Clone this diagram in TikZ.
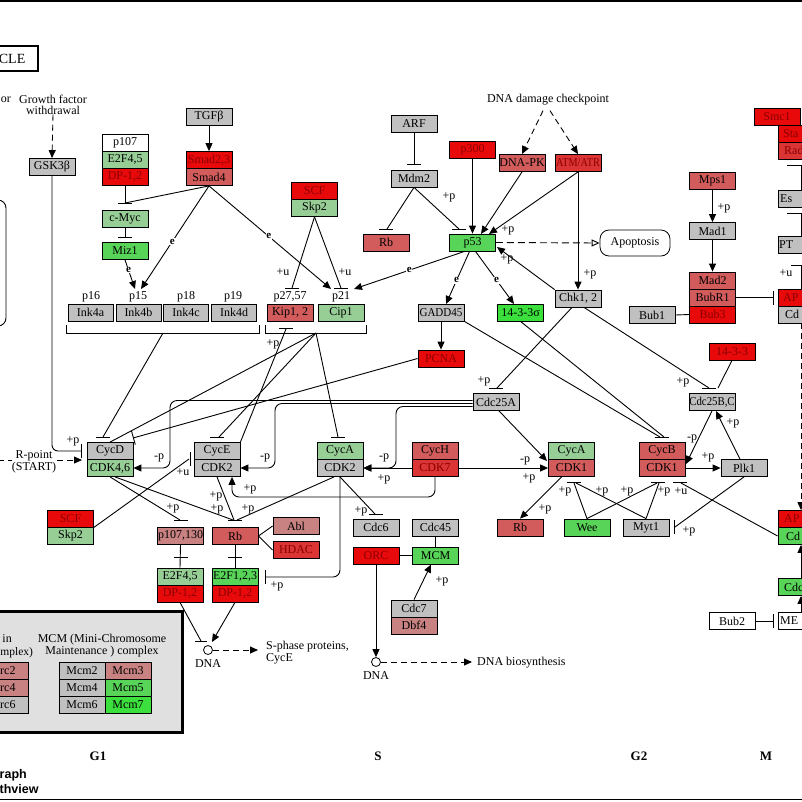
\documentclass[tikz,border=0pt]{standalone}
\usepackage{fontspec}
\setmainfont{Liberation Serif}
\newfontfamily\sansbold{Liberation Sans}
\usetikzlibrary{arrows.meta,calc}
\definecolor{kgray}{RGB}{192,192,192}
\definecolor{klg}{RGB}{150,206,150}
\definecolor{kg}{RGB}{88,212,88}
\definecolor{kbg}{RGB}{60,224,60}
\definecolor{kred}{RGB}{232,10,10}
\definecolor{kmr}{RGB}{210,92,92}
\definecolor{kdr}{RGB}{218,52,52}
\definecolor{kpink}{RGB}{200,130,130}
\definecolor{ktxr}{RGB}{140,0,0}
\definecolor{legbg}{RGB}{224,224,224}
\newcommand\hb[2][14]{\draw[line width=0.9pt] (#2) ++(-#1/2,0) -- ++(#1,0);}
\newcommand\vb[2][14]{\draw[line width=0.9pt] (#2) ++(0,-#1/2) -- ++(0,#1);}
\begin{document}
\begin{tikzpicture}[x=1pt,y=-1pt,
  every node/.style={font=\fontsize{12}{11}\selectfont, inner sep=0pt},
  bx/.style={draw, line width=0.8pt, minimum width=46pt, minimum height=17pt, inner sep=0pt},
  gy/.style={bx, fill=kgray},
  lg/.style={bx, fill=klg},
  gr/.style={bx, fill=kg},
  bg/.style={bx, fill=kbg},
  rd/.style={bx, fill=kred, text=ktxr},
  mr/.style={bx, fill=kmr},
  dr/.style={bx, fill=kdr, text=ktxr},
  pk/.style={bx, fill=kpink},
  wh/.style={bx, fill=white},
  ln/.style={line width=0.9pt},
  ar/.style={ln, -{Triangle[length=8pt,width=7pt]}},
  dar/.style={ar, dash pattern=on 6pt off 4pt},
  inh/.style={ln, -{Bar[width=14pt,line width=0.9pt]}},
  lab/.style={font=\fontsize{12}{11}\selectfont},
  edge/.style={lab, anchor=west},
  el/.style={font=\bfseries\fontsize{11}{11}\selectfont, fill=white, inner sep=0.6pt},
  ph/.style={font=\bfseries\fontsize{13}{13}\selectfont},
]
\useasboundingbox (0,0) rectangle (802,801);
% frame lines
\draw[line width=1.5pt] (-5,0.8) -- (810,0.8);
\draw[line width=1.5pt] (-5,799.4) -- (810,799.4);
% title
\draw[line width=2pt] (-10,46) rectangle (38,71);
\node[anchor=east, font=\fontsize{14}{14}\selectfont] (title) at (25.5,59) {CLE};
% left rounded box
\draw[ln, rounded corners=8pt] (-30,200) rectangle (6,326);
% texts
\node[lab, anchor=east] (gfo) at (11,100) {or};
\node[lab, align=center, font=\fontsize{12}{10.5}\selectfont] (gf) at (53,105) {Growth factor\\withdrawal};
\node[lab] (ddc) at (548,100) {DNA damage checkpoint};
\node[lab, align=center, font=\fontsize{12}{10.5}\selectfont] (rp) at (34,462) {R-point\\(START)};
\node[lab, align=left, anchor=west, font=\fontsize{12}{12}\selectfont] (sph) at (266,653) {S-phase proteins,\\CycE};
\node[lab, anchor=west] (dnab) at (477,663) {DNA biosynthesis};

% ===== boxes
\node[gy] (gsk) at (52,167) {GSK3β};
\node[wh] (p107t) at (125,142.5) {p107};
\node[lg] (e2f45t) at (125,159.5) {E2F4,5};
\node[rd] (dp12t) at (125,176.5) {DP-1,2};
\node[gy] (tgf) at (209,117) {TGFβ};
\node[rd] (smad23) at (209,160) {Smad2,3};
\node[mr] (smad4) at (209,177) {Smad4};
\node[lg] (cmyc) at (125,219) {c-Myc};
\node[gr] (miz1) at (125,251) {Miz1};
\node[gy, minimum width=45pt] (ink4a) at (90.5,312.5) {Ink4a};
\node[gy, minimum width=45pt] (ink4b) at (138.5,312.5) {Ink4b};
\node[gy, minimum width=45pt] (ink4c) at (186,312.5) {Ink4c};
\node[gy, minimum width=45pt] (ink4d) at (234,312.5) {Ink4d};
\node[lab] (lp16) at (91,297) {p16};
\node[lab] (lp15) at (138,297) {p15};
\node[lab] (lp18) at (186,297) {p18};
\node[lab] (lp19) at (233,297) {p19};
\node[mr] (kip) at (290,312.5) {Kip1, 2};
\node[lg] (cip) at (341,312.5) {Cip1};
\node[lab] (lp27) at (290,297) {p27,57};
\node[lab] (lp21) at (341,297) {p21};
\node[rd] (scf1) at (314.5,191) {SCF};
\node[lg] (skp2a) at (314.5,208) {Skp2};
\node[gy] (cycd) at (110,451) {CycD};
\node[lg] (cdk46) at (110,468) {CDK4,6};
\node[gy] (cyce) at (217,451) {CycE};
\node[gy] (cdk2e) at (217,468) {CDK2};
\node[lg] (cyca2) at (340,451) {CycA};
\node[gy] (cdk2a) at (340,468) {CDK2};
\node[mr] (cych) at (435,451) {CycH};
\node[dr] (cdk7) at (435,468) {CDK7};
\node[lg] (cyca1) at (571.5,451) {CycA};
\node[mr] (cdk1a) at (571.5,468) {CDK1};
\node[mr] (cycb) at (662,451) {CycB};
\node[mr] (cdk1b) at (662,468) {CDK1};
\node[gy] (plk1) at (744,468) {Plk1};
\node[rd] (scf2) at (70.5,518.5) {SCF};
\node[lg] (skp2b) at (70.5,535.5) {Skp2};
\node[pk] (p107130) at (180.5,536) {p107,130};
\node[mr] (rbl) at (235,536) {Rb};
\node[pk] (abl) at (296,526) {Abl};
\node[dr] (hdac) at (296,550) {HDAC};
\node[lg] (e2f45b) at (180,576.5) {E2F4,5};
\node[rd] (dp12b) at (180,593.5) {DP-1,2};
\node[gr] (e2f123) at (235,576.5) {E2F1,2,3};
\node[rd] (dp12c) at (235,593.5) {DP-1,2};
\node[gy] (cdc6) at (376,527.5) {Cdc6};
\node[gy] (cdc45) at (435.5,527.5) {Cdc45};
\node[rd] (orc) at (376,555.5) {ORC};
\node[gr] (mcm) at (435.5,555.5) {MCM};
\node[gy] (cdc7) at (414,608.5) {Cdc7};
\node[pk] (dbf4) at (414,625.5) {Dbf4};
\node[gy] (arf) at (414,124) {ARF};
\node[gy] (mdm2) at (414,178.5) {Mdm2};
\node[rd] (p300) at (472.5,150) {p300};
\node[mr] (dnapk) at (522,163) {DNA-PK};
\node[dr] (atm) at (578,163) {\scalebox{0.85}[1]{ATM/ATR}};
\node[mr] (rbu) at (386,242.5) {Rb};
\node[gr] (p53) at (472.5,242.5) {p53};
\node[gy] (gadd45) at (441,312.5) {\scalebox{0.92}[1]{GADD45}};
\node[bg] (s1433s) at (520.5,312.5) {14-3-3σ};
\node[rd] (pcna) at (441,358.5) {PCNA};
\node[gy] (chk) at (578,298.5) {Chk1, 2};
\node[gy] (cdc25a) at (496,402) {Cdc25A};
\node[draw, rounded corners=9pt, minimum width=70pt, minimum height=26pt, line width=0.8pt] (apop) at (635,243) {Apoptosis};
\node[mr] (mps1) at (712.5,181) {Mps1};
\node[gy] (mad1) at (712.5,231) {Mad1};
\node[mr] (mad2) at (712.5,280.5) {Mad2};
\node[mr] (bubr1) at (712.5,297.5) {BubR1};
\node[rd] (bub3) at (712.5,314.5) {Bub3};
\node[gy] (bub1) at (652,315) {Bub1};
\node[rd] (s1433) at (732,351.5) {14-3-3};
\node[gy] (cdc25bc) at (712,402) {\scalebox{0.9}[1]{Cdc25B,C}};
\node[gr] (wee) at (587,527.5) {Wee};
\node[gy] (myt1) at (646,527.5) {Myt1};
\node[mr] (rbr) at (520,527.5) {Rb};
\node[rd] (smc1) at (777,116.5) {Smc1};
% boxes cut by the right edge: only their visible text
\node[rd] (stag) at (801,133.5) {};
\node[edge, text=ktxr] (stagt) at (783,133.5) {Sta};
\node[dr] (rad21) at (801,150.5) {};
\node[edge, text=ktxr] (rad21t) at (784,150.5) {Rad};
\node[gy] (esp1) at (801,198.5) {};
\node[edge] (esp1t) at (780,198.5) {Es};
\node[gy] (pttg) at (801,245) {};
\node[edge] (pttgt) at (779,245) {PT};
\node[rd] (apc1) at (801,297.5) {};
\node[edge, text=ktxr] (apc1t) at (783,297.5) {AP};
\node[gy] (cdc20a) at (801,314.5) {};
\node[edge] (cdc20at) at (785,314.5) {Cd};
\node[rd] (apc2) at (801,519) {};
\node[edge, text=ktxr] (apc2t) at (784,519) {AP};
\node[gr] (cdc20b) at (801,536) {};
\node[edge] (cdc20bt) at (786,536) {Cd};
\node[gr] (cdc14) at (801,587) {};
\node[edge] (cdc14t) at (784,587) {Cdc};
\node[wh] (bub2) at (732,621) {Bub2};
\node[wh] (men) at (801,621) {};
\node[edge] (ment) at (780,621) {ME};
\node[draw, circle, minimum size=9pt, line width=0.8pt] (dna1) at (208,650) {};
\node[lab] (dna1l) at (208,664) {DNA};
\node[draw, circle, minimum size=9pt, line width=0.8pt] (dna2) at (376,662) {};
\node[lab] (dna2l) at (376,676) {DNA};

% ===== legend
\draw[line width=3pt, fill=legbg] (-10,611) rectangle (182,732);
\node[lab, anchor=east] (orct1) at (12,639) {in};
\node[lab, anchor=west, font=\fontsize{11.5}{11}\selectfont] (orct2) at (0.3,652.5) {mplex)};
\node[pk] (orc2) at (5,670.5) {};
\node[edge] (orc2t) at (0,670.5) {rc2};
\node[pk] (orc4) at (5,687.5) {};
\node[edge] (orc4t) at (0,687.5) {rc4};
\node[gy] (orc6) at (5,704.5) {};
\node[edge] (orc6t) at (0,704.5) {rc6};
\node[lab, align=center, font=\fontsize{12}{10.5}\selectfont] (mcmt) at (102,646) {MCM (Mini-Chromosome\\Maintenance ) complex};
\node[gy] (mcm2) at (82,670.5) {Mcm2};
\node[pk] (mcm3) at (128,670.5) {Mcm3};
\node[gy] (mcm4) at (82,687.5) {Mcm4};
\node[gr] (mcm5) at (128,687.5) {Mcm5};
\node[gy] (mcm6) at (82,704.5) {Mcm6};
\node[bg] (mcm7) at (128,704.5) {Mcm7};

% phases
\node[ph] (g1) at (98,756) {G1};
\node[ph] (sph2) at (378,756) {S};
\node[ph] (g2) at (639,756) {G2};
\node[ph] (mph) at (766,756) {M};
\node[anchor=west, font=\sansbold\bfseries\fontsize{12.5}{12}\selectfont] (gr1) at (-0.5,775) {raph};
\node[anchor=west, font=\sansbold\bfseries\fontsize{12.5}{12}\selectfont] (gr2) at (-0.5,789.5) {thview};

% ===== connectors
\draw[dar] (gf.south) -- (gsk.north);
\draw[ln, rounded corners=6pt] (gsk.south) -- (52,451) -- (81,451); \vb{81,451}
\node[lab] (pgsk) at (73,441) {+p};
\draw[ln, dash pattern=on 6pt off 4pt] (-2,460) -- (12,460);
\coordinate (rpend) at (82,460);
\draw[dar] (57,460) -- (rpend);

\draw[ar] (tgf.south) -- (smad23.north);
\coordinate (mycbar) at (125,203);
\draw[ln] (dp12t.south) -- (mycbar); \hb{125,203}
\draw[ln] (smad4.south) -- (mycbar);
\draw[ln] (cmyc.south) -- (125,237); \hb{125,237}
\draw[ar] (miz1.south) -- (135,289) node[el, pos=0.35] {e};
\draw[ar] (smad4.south) -- (141,289) node[el, pos=0.54] {e};
\draw[ar] (smad4.south) -- (331,289) node[el, pos=0.49] {e};

\draw[ln] (66,325) -- (66,333) -- (259,333) -- (259,325);
\draw[ln] (265,325) -- (265,333) -- (366,333) -- (366,325);
\coordinate (inkb) at (163,333);
\coordinate (kcb) at (316,333);
\draw[ln] (inkb) -- (103,437); \hb{103,437}
\draw[ln] (kcb) -- (cycd.north);
\draw[ln] (kcb) -- (219,437); \hb{217,437}
\draw[ln] (kcb) -- (338,437); \hb{338,437}
\draw[inh] (pcna.west) -- (133,438);
\draw[ln] (cyce.north east) -- (286,329); \hb{286,328}
\node[lab] at (273,344) {+p};

\draw[ln] (skp2a.south) -- (292,288); \hb{292,288}
\draw[ln] (skp2a.south) -- (341,288); \hb{341,288}
\node[lab] at (283,272) {+u};
\node[lab] at (345,272) {+u};

\draw[ar] ($(p53.south)+(-8,0)$) -- (354,289) node[el, pos=0.5] {e};
\draw[ar] ($(p53.south)+(-3,0)$) -- (446,304) node[el, pos=0.55] {e};
\draw[ar] ($(p53.south)+(3,0)$) -- (514,304) node[el, pos=0.55] {e};

\draw[ln] (arf.south) -- (414,164); \hb{414,164}
\draw[ln] (mdm2.south) -- (387,229); \hb{386,229}
\draw[ln] (mdm2.south) -- (459,229); \hb{459,229}
\node[lab] at (449,197) {+p};
\draw[ar] (p300.south) -- (p53.north);
\draw[ar] (dnapk.south) -- (481,234);
\draw[ar] (atm.south) -- (489,234);
\node[lab] at (508,230) {+p};
\draw[ar] (atm.south) -- (chk.north);
\node[lab] at (590,274) {+p};
\draw[ar] (chk.north west) -- (497,247);
\node[lab] at (507,259) {+p};
\draw[dar] ($(ddc.south)+(-5,5)$) -- (dnapk.north);
\draw[dar] ($(ddc.south)+(2,5)$) -- (atm.north);
\draw[ln, dash pattern=on 7pt off 4pt, -{Triangle[open,length=8pt,width=7pt]}] (p53.east) -- (apop.west);

\draw[ar] (gadd45.south) -- (pcna.north);
\draw[ln] (gadd45.south east) -- (660,437); \hb{662,437}
\draw[ln] (s1433s.south) -- (664,437);
\draw[ln] ($(chk.south)+(-6,0)$) -- (497,388); \hb{496,388}
\node[lab] at (484,381) {+p};
\draw[ln] ($(chk.south)+(6,0)$) -- (709,388); \hb{709,388}
\node[lab] at (683,382) {+p};
\draw[ln] (s1433.south) -- (718,388);
\draw[ar] (cdc25bc.south) -- (686,464);
\node[lab] at (692,439) {-p};
\draw[ar] (cdk1b.east) -- (plk1.west);
\node[lab] at (708,457) {+p};
\draw[ar] ($(plk1.north)+(-4,0)$) -- (716,411);
\node[lab] at (733,423) {+p};
\draw[ln] (plk1.south) -- (675,527); \vb{674,527}
\node[lab] at (689,531) {+p};
\draw[ar] ($(cdc25a.south)+(3,0)$) -- (547,461);
\node[lab] at (525,461) {-p};
\draw[ar] (cdk7.east) -- (cdk1a.west);
\node[lab] at (529,478) {+p};
\draw[ar] ($(cdk1a.south)+(-10,0)$) -- (rbr.north);
\node[lab] at (545,509) {+p};
\draw[ln] (wee.north) -- (574,483); \hb{574,482}
\draw[ln] (myt1.north) -- (576,483);
\draw[ln] (wee.north) -- (657,483); \hb{658,482}
\draw[ln] (myt1.north) -- (659,483);
\draw[ln] (cdc20b.west) -- (681,483); \hb{680,482}
\node[lab] at (565,491) {+p};
\node[lab] at (602,491) {+p};
\node[lab] at (627,491) {+p};
\node[lab] at (664,491) {+p};
\node[lab] at (681,491) {+u};

\draw[ar, rounded corners=7pt] ($(cdc25a.west)+(0,-1.5)$) -- (170,400.5) -- (170,468) -- (cdk46.east);
\draw[ar, rounded corners=7pt] ($(cdc25a.west)+(0,1.5)$) -- (275,403.5) -- (275,468) -- (cdk2e.east);
\draw[ar, rounded corners=7pt] ($(cdc25a.west)+(0,4.5)$) -- (396,406.5) -- (396,468) -- (cdk2a.east);
\node[lab] at (159,458) {-p};
\node[lab] at (265,458) {-p};
\node[lab] at (384,458) {-p};
\draw[ar] (cdk7.west) -- (cdk2a.east);
\node[lab] at (384,479) {+p};
\draw[ar, rounded corners=7pt] (cdk7.south) -- (435,497) -- (232,497) -- ($(cdk2e.south)+(15,0)$);
\node[lab] at (250,489) {+p};

\draw[ln] (cdk46.south) -- (180,520); \hb{181,520}
\node[lab] at (173,508) {+p};
\draw[ln] ($(cdk46.south)+(5,0)$) -- (233,520); \hb{235,520}
\node[lab] at (217,509) {+p};
\draw[ln] (cdk2e.south) -- (234,520);
\node[lab] at (216,496) {+p};
\draw[ln] ($(cdk2a.south)+(-6,0)$) -- (237,520);
\node[lab] at (248,509) {+p};
\draw[ln] (scf2.south east) -- (189,459); \vb{190,459}
\node[lab] at (183,472) {+u};
\draw[ln] (rbl.east) -- (abl.west);
\draw[ln] (rbl.east) -- (hdac.west);
\draw[ln] (p107130.south) -- (e2f45b.north); \hb{180.5,557}
\draw[ln] (rbl.south) -- (e2f123.north); \hb{235,557}
\draw[ln, rounded corners=7pt] (cdk2a.south) -- (340,577) -- (265,577); \vb{265,577}
\node[lab] at (277,586) {+p};
\draw[ln] (cdk2a.south) -- (375,514); \hb{376,514}
\node[lab] at (361,511) {+p};
\draw[ln] (cdc45.south) -- (mcm.north);
\draw[ln] (orc.east) -- (mcm.west);
\draw[ar] (cdc7.north) -- (431,564.5);
\node[lab] at (442,581) {+p};
\draw[ar] (orc.south) -- (dna2.north);
\draw[dar] (dna2.east) -- (472,662);
\draw[ln] (dp12b.south) -- (201,641); \hb[12]{201,641}
\draw[ar] (dp12c.south) -- (212,642);
\draw[dar] (dna1.east) -- (258,650);

\draw[ar] (mps1.south) -- (mad1.north);
\node[lab] at (724,208) {+p};
\draw[ar] (mad1.south) -- (mad2.north);
\draw[ln] (bubr1.east) -- (773,297.5); \vb{773,297.5}
\draw[ln] (bub1.east) -- (bub3.west);

\draw[ln] (esp1.north) -- (801,165); \hb[28]{801,165}
\draw[ln] (pttg.north) -- (801,213); \hb[28]{801,213}
\draw[ln] (apc1.north) -- (801,265); \hb[20]{801,265}
\node[lab] at (786,273) {+u};
\draw[dar] (cdc20a.south) -- (apc2.north);
\draw[ar] (cdc14.north) -- (cdc20b.south);
\draw[ar] (men.north) -- (cdc14.south);
\draw[ln] (bub2.east) -- (773,621); \vb{773,621}
\end{tikzpicture}
\end{document}
